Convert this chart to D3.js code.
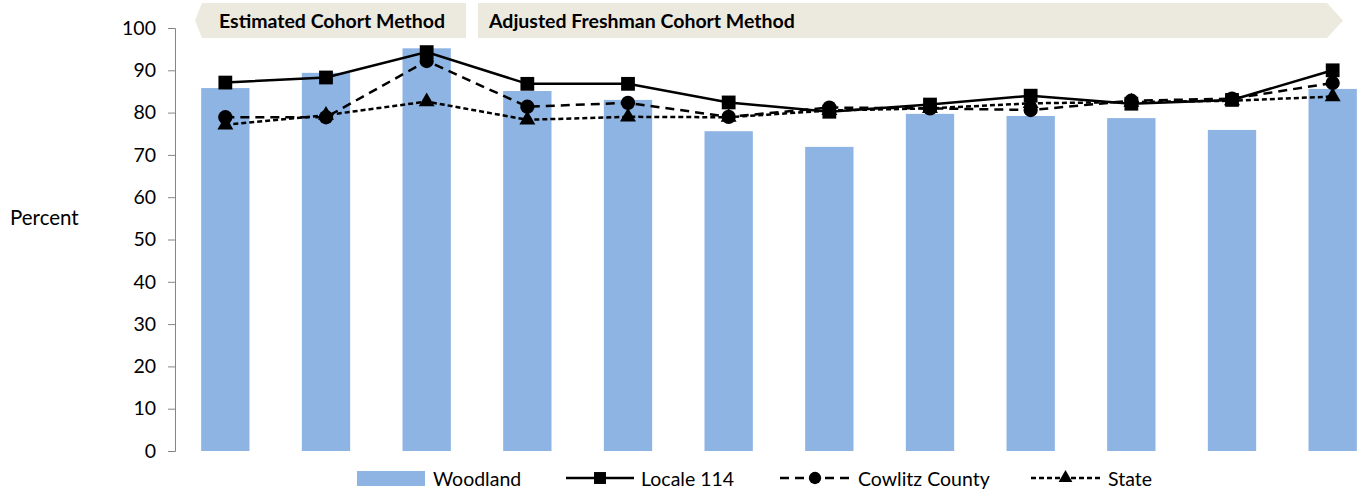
<!DOCTYPE HTML>
<html>
<head>
    <title>Graduation Rates</title>
    <script type="text/javascript" src="https://cdnjs.cloudflare.com/ajax/libs/d3/7.8.5/d3.min.js"></script>
    <style>
        body { margin: 0; background: white; }
        text { font-family: Lato, "Liberation Sans", sans-serif; fill: #000; }
        .banner-text { font-weight: bold; }
        .axis path, .axis line { stroke: #868686; }
    </style>
</head>
<body>
<div id="panel"></div>
<script>
    var width = 1359, height = 493;
    var font_size = 19.5;

    // categories (years are not labelled in the chart)
    var years = ["2003", "2004", "2005", "2006", "2007", "2008", "2009", "2010", "2011", "2012", "2013", "2014"];
    var woodland = [85.8, 89.4, 95.2, 85.1, 83.0, 75.6, 71.9, 79.7, 79.2, 78.7, 75.9, 85.6];
    var locale114 = [87.1, 88.3, 94.3, 86.8, 86.8, 82.4, 80.2, 81.9, 84.0, 82.1, 83.0, 90.0];
    var cowlitz = [78.9, 78.9, 92.2, 81.4, 82.3, 79.0, 81.2, 81.0, 80.6, 82.8, 83.3, 87.0];
    var state = [77.1, 79.4, 82.6, 78.3, 79.0, 78.9, 80.5, 81.0, 82.2, 82.5, 82.8, 83.8];
    var yTicks = [0, 10, 20, 30, 40, 50, 60, 70, 80, 90, 100];
    var banners = ["Estimated Cohort Method", "Adjusted Freshman Cohort Method"];

    var svg = d3.select("#panel").append("svg")
        .attr("width", width)
        .attr("height", height);

    var x = d3.scaleBand()
        .domain(years)
        .range([175, 1383])
        .paddingInner(0.52)
        .paddingOuter(0.26);

    var y = d3.scaleLinear()
        .domain([0, 100])
        .range([451, 28]);

    // banners on top
    var bannerG = svg.append("g");
    bannerG.append("path")
        .attr("d", "M195,20.5 L202,3 L466,3 L466,38 L202,38 Z")
        .attr("fill", "#ECE9DF");
    bannerG.append("path")
        .attr("d", "M478,3 L1327,3 L1343,20.5 L1327,38 L478,38 Z")
        .attr("fill", "#ECE9DF");
    bannerG.append("text").attr("class", "banner-text")
        .attr("x", 219).attr("y", 28)
        .attr("font-size", font_size)
        .text(banners[0]);
    bannerG.append("text").attr("class", "banner-text")
        .attr("x", 489).attr("y", 28)
        .attr("font-size", font_size)
        .text(banners[1]);

    // y axis
    var yAxis = svg.append("g")
        .attr("class", "axis")
        .attr("transform", "translate(175,0)")
        .call(d3.axisLeft(y).tickValues(yTicks).tickSize(7).tickSizeOuter(7).tickPadding(12));
    yAxis.selectAll("text")
        .attr("font-size", font_size)
        .style("font-family", "Lato, 'Liberation Sans', sans-serif");

    svg.append("text")
        .attr("x", 10).attr("y", 225)
        .attr("font-size", font_size + 1)
        .text("Percent");

    // bars
    svg.append("g").selectAll("rect")
        .data(woodland)
        .enter().append("rect")
        .attr("x", function(d, i) { return x(years[i]); })
        .attr("y", function(d) { return y(d); })
        .attr("width", x.bandwidth())
        .attr("height", function(d) { return y(0) - y(d); })
        .attr("fill", "#8EB4E3");

    var lineGen = d3.line()
        .x(function(d, i) { return x(years[i]) + x.bandwidth() / 2; })
        .y(function(d) { return y(d); });

    var series = [
        {name: "Locale 114", values: locale114, dash: null, symbol: d3.symbolSquare, size: 190},
        {name: "Cowlitz County", values: cowlitz, dash: "9,6", symbol: d3.symbolCircle, size: 160},
        {name: "State", values: state, dash: "5,3", symbol: d3.symbolTriangle, size: 110}
    ];

    series.forEach(function(s) {
        var g = svg.append("g");
        g.append("path")
            .datum(s.values)
            .attr("d", lineGen)
            .attr("fill", "none")
            .attr("stroke", "black")
            .attr("stroke-width", 2.5)
            .attr("stroke-dasharray", s.dash);
        g.selectAll(".mark")
            .data(s.values)
            .enter().append("path")
            .attr("transform", function(d, i) {
                return "translate(" + (x(years[i]) + x.bandwidth() / 2) + "," + y(d) + ")";
            })
            .attr("d", d3.symbol().type(s.symbol).size(s.size))
            .attr("fill", "black");
    });

    // legend
    var legend = svg.append("g");
    legend.append("rect")
        .attr("x", 357).attr("y", 471).attr("width", 68).attr("height", 15)
        .attr("fill", "#8EB4E3");
    legend.append("text").attr("x", 433).attr("y", 486).attr("font-size", font_size).text("Woodland");

    var legendPos = [
        {x1: 566, x2: 634, tx: 641},
        {x1: 780, x2: 850, tx: 858},
        {x1: 1031, x2: 1100, tx: 1108}
    ];
    series.forEach(function(s, i) {
        var p = legendPos[i];
        legend.append("line")
            .attr("x1", p.x1).attr("x2", p.x2)
            .attr("y1", 478).attr("y2", 478)
            .attr("stroke", "black")
            .attr("stroke-width", 2.5)
            .attr("stroke-dasharray", s.dash);
        legend.append("path")
            .attr("transform", "translate(" + ((p.x1 + p.x2) / 2) + ",478)")
            .attr("d", d3.symbol().type(s.symbol).size(s.size * 0.75))
            .attr("fill", "black");
        legend.append("text").attr("x", p.tx).attr("y", 486).attr("font-size", font_size).text(s.name);
    });
</script>
</body>
</html>
